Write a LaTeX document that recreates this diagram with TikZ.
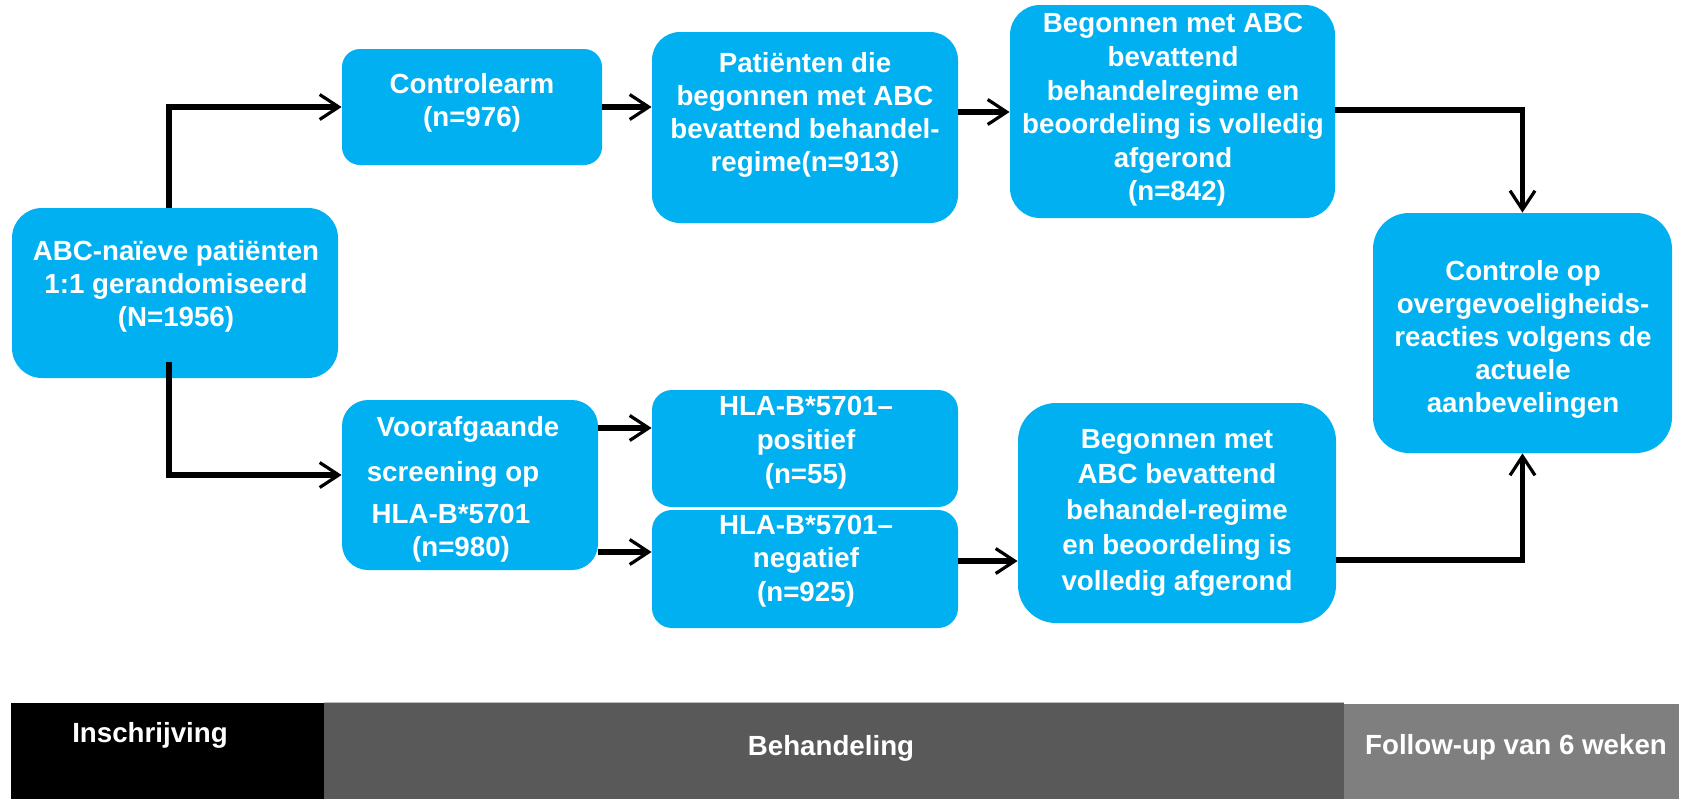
\documentclass[tikz,border=0pt]{standalone}
\usepackage{fontspec}
\setmainfont{Liberation Sans}
\usetikzlibrary{arrows.meta}
\definecolor{boxblue}{RGB}{0,176,240}
\definecolor{darkband}{RGB}{89,89,89}
\definecolor{greyband}{RGB}{127,127,127}
\newcommand\myfs[1]{\bfseries\fontsize{13.85}{#1}\selectfont}
\newcommand\trail[1]{\hbox to #1{}}
\begin{document}
\begin{tikzpicture}[x=0.5pt,y=-0.5pt,
  box/.style={fill=boxblue, draw=none, inner sep=0pt},
  txt/.style={text=white, align=center, inner sep=0pt, execute at begin node=\strut, execute at end node=\strut},
  arr/.style={line width=2.75pt, -{Straight Barb[length=9.5pt,width=12.5pt,line width=1.6pt]}},
  band/.style={inner sep=0pt, draw=none},
  bandtxt/.style={text=white, inner sep=0pt, anchor=base, font=\myfs{16.5}}]
\useasboundingbox (0,0) rectangle (1681,799);

% boxes
\node[box, minimum width=163pt, minimum height=85pt, rounded corners=15pt] (start) at (175,293) {};
\node[box, minimum width=130pt, minimum height=58pt, rounded corners=9pt] (ctrl) at (472,107) {};
\node[box, minimum width=153pt, minimum height=95.5pt, rounded corners=14pt] (pat) at (805,127.5) {};
\node[box, minimum width=162.5pt, minimum height=106.5pt, rounded corners=15pt] (beg1) at (1172.5,111.5) {};
\node[box, minimum width=149.5pt, minimum height=120pt, rounded corners=18pt] (ctl2) at (1522.5,333) {};
\node[box, minimum width=128pt, minimum height=85pt, rounded corners=13pt] (voor) at (470,485) {};
\node[box, minimum width=153pt, minimum height=58.5pt, rounded corners=10pt] (hpos) at (805,448.5) {};
\node[box, minimum width=153pt, minimum height=59pt, rounded corners=10pt] (hneg) at (805,569) {};
\node[box, minimum width=159pt, minimum height=110pt, rounded corners=19pt] (beg2) at (1177,513) {};

% texts
\node[txt, font=\myfs{16.5}] (tstart) at (176,288.4) {ABC-naïeve patiënten\\1:1 gerandomiseerd\\(N=1956)};
\node[txt, font=\myfs{16.5}] (tctrl) at (472,104.9) {Controlearm\\(n=976)};
\node[txt, font=\myfs{16.5}] (tpat) at (805,117.4) {Patiënten die\\begonnen met ABC\\bevattend behandel-\\regime(n=913)};
\node[txt, font=\myfs{16.8}] (tbeg1) at (1173,112.3) {Begonnen met ABC\\bevattend\\behandelregime en\\beoordeling is volledig\\afgerond\\\trail{4pt}(n=842)};
\node[txt, font=\myfs{16.5}] (tctl2) at (1523,341.4) {Controle op\\overgevoeligheids-\\reacties volgens de\\actuele\\aanbevelingen};
\node[txt, font=\myfs{16.5}] (tvoor) at (468,491.4) {Voorafgaande\\[6pt]screening op\trail{15pt}\\[4.5pt]HLA-B*5701\trail{17pt}\\(n=980)\trail{7pt}};
\node[txt, font=\myfs{17}] (thpos) at (806,445.2) {HLA-B*5701–\\positief\\(n=55)};
\node[txt, font=\myfs{16.75}] (thneg) at (806,563.3) {HLA-B*5701–\\negatief\\(n=925)};
\node[txt, font=\myfs{17.75}] (tbeg2) at (1177,514.9) {Begonnen met\\ABC bevattend\\behandel-regime\\en beoordeling is\\volledig afgerond};

% connectors
\draw[arr] ([xshift=-3pt]start.north) |- (ctrl.west);
\draw[arr] ([xshift=-3pt,yshift=8pt]start.south) |- (voor.west |- 0,475);
\draw[arr] (ctrl.east) -- (pat.west |- ctrl.east);
\draw[arr] (pat.east |- 0,112) -- (beg1.west |- 0,112);
\draw[arr] (beg1.east |- 0,110) -| (ctl2.north);
\draw[arr] (voor.east |- 0,428) -- (hpos.west |- 0,428);
\draw[arr] (voor.east |- 0,552) -- (hneg.west |- 0,552);
\draw[arr] (hneg.east |- 0,561) -- (beg2.west |- 0,561);
\draw[arr] (beg2.east |- 0,560) -| (ctl2.south);

% phase bands
\node[band, fill=black, minimum width=156.5pt, minimum height=48pt] (bin) at (167.5,751) {};
\node[band, fill=darkband, minimum width=510pt, minimum height=48pt] (bbe) at (834,751) {};
\node[band, fill=greyband, minimum width=167.5pt, minimum height=47.5pt] (bfo) at (1511.5,751.5) {};
\draw[black!25, line width=0.8pt] (bbe.north west) -- (bbe.north east);
\node[bandtxt] (lin) at (150,742) {Inschrijving};
\node[bandtxt] (lbe) at (831,755) {Behandeling};
\node[bandtxt] (lfo) at (1516,754) {Follow-up van 6 weken};
\end{tikzpicture}
\end{document}
